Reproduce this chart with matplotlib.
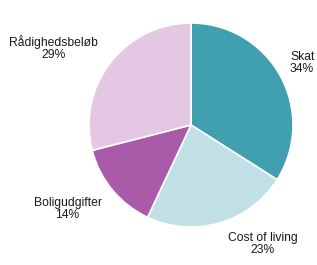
import matplotlib
matplotlib.use("Agg")
import matplotlib.pyplot as plt

labels = ["Skat", "Cost of living", "Boligudgifter", "Rådighedsbeløb"]
values = [34, 23, 14, 29]
colors = ["#40a0b0", "#c0e0e5", "#a95aa9", "#e4c8e3"]
label_pos = [(0.97, 0.61, "left"), (0.70, -1.17, "center"), (-1.21, -0.82, "center"), (-1.35, 0.75, "center")]

plt.rcParams['font.family'] = ['Liberation Sans', 'DejaVu Sans']
W, H = 317, 265
fig = plt.figure(figsize=(W/100, H/100), dpi=100)
cx, cy, r = 191, 125, 102
ax = fig.add_axes([(cx - r)/W, (H - cy - r)/H, 2*r/W, 2*r/H])
ax.pie(values, colors=colors, startangle=90, counterclock=False,
       wedgeprops=dict(edgecolor="white", linewidth=1.2), radius=1)
ax.set_xlim(-1, 1); ax.set_ylim(-1, 1)
ax.set_aspect("equal")
ax.axis("off")
for lab, v, (x, y, ha) in zip(labels, values, label_pos):
    ax.text(x, y, f"{lab}\n{v}%", ha=ha, va="center", fontsize=8.7,
            color="#1a1a1a", linespacing=1.0, clip_on=False, multialignment=ha)
fig.savefig("out.png", dpi=100)
